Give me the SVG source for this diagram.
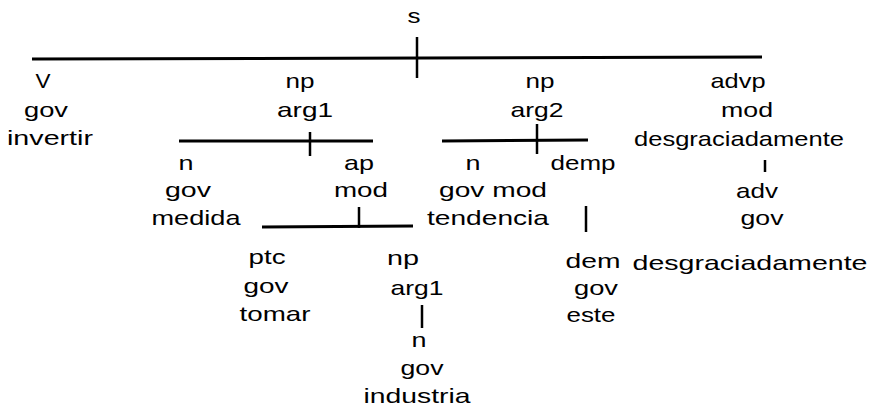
<svg xmlns="http://www.w3.org/2000/svg" width="873" height="410" viewBox="0 0 873 410">
<style>
text{font-family:"Liberation Sans",Arial,sans-serif;font-size:21px;fill:#000;text-anchor:middle}
.e{stroke:#000;stroke-width:3;fill:none;stroke-linecap:butt}
.t{stroke:#000;stroke-width:2.5;fill:none}
</style>
<rect width="873" height="410" fill="#fff"/>
<g id="connectors">
<path class="e" d="M32 59 L762 57"/>
<path class="t" d="M417 37 V78"/>
<path class="e" d="M179 141 L373 141"/>
<path class="t" d="M310 132 V156"/>
<path class="e" d="M262 227 L413 226"/>
<path class="t" d="M359 207 V228"/>
<path class="e" d="M442 141 L588 140"/>
<path class="t" d="M537 124 V154"/>
<path class="t" d="M586 206 V232"/>
<path class="t" d="M765 160 V172"/>
<path class="t" d="M422 305 V328"/>
</g>
<g id="s"><text x="414" y="23" textLength="13" lengthAdjust="spacingAndGlyphs">s</text></g>
<g id="v"><text x="43" y="88" textLength="15" lengthAdjust="spacingAndGlyphs">V</text><text x="46" y="117" textLength="44" lengthAdjust="spacingAndGlyphs">gov</text><text x="50" y="145" textLength="86" lengthAdjust="spacingAndGlyphs">invertir</text></g>
<g id="np1"><text x="300" y="88" textLength="29" lengthAdjust="spacingAndGlyphs">np</text><text x="305" y="117" textLength="56" lengthAdjust="spacingAndGlyphs">arg1</text></g>
<g id="n1"><text x="186" y="170" textLength="15" lengthAdjust="spacingAndGlyphs">n</text><text x="188" y="197" textLength="46" lengthAdjust="spacingAndGlyphs">gov</text><text x="196" y="225" textLength="89" lengthAdjust="spacingAndGlyphs">medida</text></g>
<g id="ap"><text x="359" y="170" textLength="30" lengthAdjust="spacingAndGlyphs">ap</text><text x="361" y="197" textLength="54" lengthAdjust="spacingAndGlyphs">mod</text></g>
<g id="ptc"><text x="267" y="264" textLength="37" lengthAdjust="spacingAndGlyphs">ptc</text><text x="266" y="293" textLength="45" lengthAdjust="spacingAndGlyphs">gov</text><text x="275" y="321" textLength="71" lengthAdjust="spacingAndGlyphs">tomar</text></g>
<g id="np3"><text x="403" y="265" textLength="32" lengthAdjust="spacingAndGlyphs">np</text><text x="417" y="295" textLength="53" lengthAdjust="spacingAndGlyphs">arg1</text></g>
<g id="n3"><text x="419" y="347" textLength="15" lengthAdjust="spacingAndGlyphs">n</text><text x="422" y="375" textLength="43" lengthAdjust="spacingAndGlyphs">gov</text><text x="417" y="403" textLength="107" lengthAdjust="spacingAndGlyphs">industria</text></g>
<g id="np2"><text x="540" y="88" textLength="29" lengthAdjust="spacingAndGlyphs">np</text><text x="537" y="117" textLength="53" lengthAdjust="spacingAndGlyphs">arg2</text></g>
<g id="n2"><text x="473" y="170" textLength="15" lengthAdjust="spacingAndGlyphs">n</text><text x="493" y="197" textLength="108" lengthAdjust="spacingAndGlyphs">gov mod</text><text x="488" y="225" textLength="122" lengthAdjust="spacingAndGlyphs">tendencia</text></g>
<g id="demp"><text x="583" y="170" textLength="65" lengthAdjust="spacingAndGlyphs">demp</text></g>
<g id="dem"><text x="593" y="268" textLength="55" lengthAdjust="spacingAndGlyphs">dem</text><text x="596" y="295" textLength="44" lengthAdjust="spacingAndGlyphs">gov</text><text x="591" y="322" textLength="49" lengthAdjust="spacingAndGlyphs">este</text></g>
<g id="advp"><text x="738" y="88" textLength="55" lengthAdjust="spacingAndGlyphs">advp</text><text x="747" y="117" textLength="52" lengthAdjust="spacingAndGlyphs">mod</text><text x="739" y="146" textLength="210" lengthAdjust="spacingAndGlyphs">desgraciadamente</text></g>
<g id="adv"><text x="757" y="198" textLength="42" lengthAdjust="spacingAndGlyphs">adv</text><text x="762" y="225" textLength="43" lengthAdjust="spacingAndGlyphs">gov</text><text x="750" y="270" textLength="235" lengthAdjust="spacingAndGlyphs">desgraciadamente</text></g>
</svg>
